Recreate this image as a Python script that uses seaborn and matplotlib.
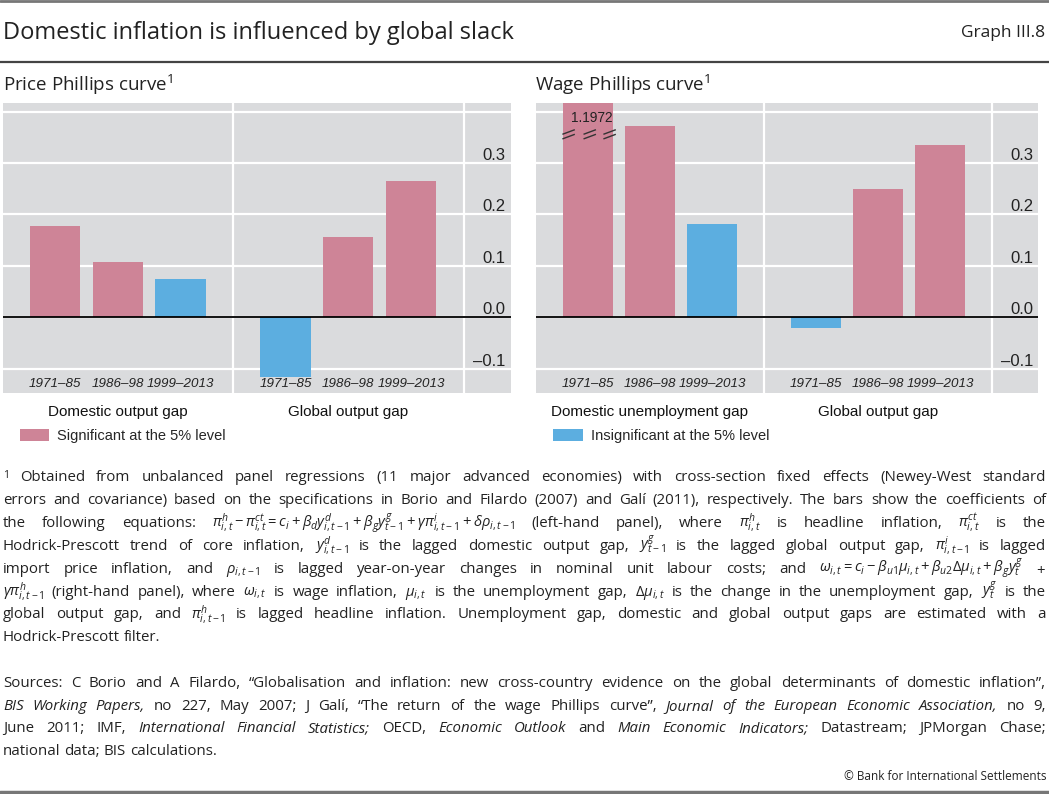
"""
Graph III.8 - Domestic inflation is influenced by global slack
"""

import matplotlib
matplotlib.use('Agg')
from matplotlib.patches import Patch
from matplotlib.lines import Line2D
import pandas as pd
import seaborn as sns
import matplotlib.pyplot as plt


# Dados
periods = ['1971–85', '1986–98', '1999–2013']
price_groups = ['Domestic output gap', 'Global output gap']
wage_groups = ['Domestic unemployment gap', 'Global output gap']
price_values = [0.178, 0.108, 0.075, -0.116, 0.156, 0.265]
price_signif = [True, True, False, False, True, True]
wage_values = [1.1972, 0.372, 0.182, -0.020, 0.250, 0.335]
wage_signif = [True, True, False, False, True, True]
grid_ticks = [-0.1, 0.0, 0.1, 0.2, 0.3, 0.4]
label_ticks = [-0.1, 0.0, 0.1, 0.2, 0.3]

SIG = 'Significant at the 5% level'
INS = 'Insignificant at the 5% level'
PINK = '#ce8497'
BLUE = '#5caee0'
BG = '#dadbdd'

W, H = 1049, 794
GROUP_STEP = 3.667

sns.set_style('white')
plt.rcParams['font.family'] = ['Liberation Sans', 'DejaVu Sans']
plt.rcParams['mathtext.fontset'] = 'custom'
plt.rcParams['mathtext.rm'] = 'Open Sans'
plt.rcParams['mathtext.it'] = 'Open Sans:italic'
plt.rcParams['mathtext.bf'] = 'Open Sans:bold'
TFONT = ['Open Sans', 'DejaVu Sans']

fig = plt.figure(figsize=(W / 100, H / 100), dpi=100)


def px_axes(x0, x1, ytop, ybot):
    return fig.add_axes([x0 / W, 1 - ybot / H, (x1 - x0) / W, (ybot - ytop) / H])


def panel(ax, values, signif, groups, legend_label, legend_color):
    pos = [g * GROUP_STEP + j for g in range(len(groups)) for j in range(len(periods))]
    df = pd.DataFrame({
        'x': pos,
        'value': values,
        'sig': [SIG if s else INS for s in signif],
    })
    ax.set_facecolor(BG)
    sns.barplot(data=df, x='x', y='value', hue='sig', palette={SIG: PINK, INS: BLUE},
                native_scale=True, dodge=False, legend=False, errorbar=None,
                saturation=1, width=0.8, linewidth=0, ax=ax, zorder=2)
    ax.set_xlabel('')
    ax.set_ylabel('')
    for s in ax.spines.values():
        s.set_visible(False)

    ax.set_xlim(-0.83, 7.25)
    ax.set_ylim(-0.148, 0.4175)

    # grade e eixo y
    ax.set_axisbelow(True)
    ax.yaxis.set_ticks_position('right')
    ax.set_yticks(grid_ticks,
                  labels=[f'{v:.1f}'.replace('-', '–') if v in label_ticks else '' for v in grid_ticks])
    ax.grid(axis='y', color='white', lw=1.6)
    ax.tick_params(axis='y', length=0, pad=-3.5, labelsize=12, labelcolor='#222222')
    for lab in ax.get_yticklabels():
        lab.set_horizontalalignment('right')
        lab.set_verticalalignment('bottom')
    ax.axhline(0, color='black', lw=1.3, zorder=3)

    # separadores de grupo
    seps = [g * GROUP_STEP + 2.833 for g in range(len(groups))]
    for s in seps:
        ax.axvline(s, color='white', lw=1.6, zorder=1)
    ax.set_xticks(seps, labels=['' for _ in seps])
    ax.tick_params(axis='x', which='major', direction='in', length=9, width=1.3, color='black')
    ax.set_xticks(pos, labels=periods * len(groups), minor=True)
    ax.tick_params(axis='x', which='minor', length=0, pad=-11.2, labelsize=9.6, labelcolor='#222222')
    for lab in ax.get_xticklabels(minor=True):
        lab.set_fontstyle('italic')

    for g, name in enumerate(groups):
        ax.text(g * GROUP_STEP + 1, -0.063, name, transform=ax.get_xaxis_transform(),
                ha='center', va='center', fontsize=11, color='#111111')

    ax.legend(handles=[Patch(facecolor=legend_color, edgecolor='none', label=legend_label)],
              loc='center left', bbox_to_anchor=(0.034, -0.147), frameon=False,
              fontsize=10.5, handlelength=2.0, handleheight=0.8, handletextpad=0.55,
              borderpad=0, borderaxespad=0)
    return pos


ax1 = px_axes(2.7, 510.7, 102.7, 393.3)
panel(ax1, price_values, price_signif, price_groups, SIG, PINK)

ax2 = px_axes(536.3, 1038.3, 102.7, 393.3)
pos2 = panel(ax2, wage_values, wage_signif, wage_groups, INS, BLUE)

# barra truncada: marcas de quebra e valor
x0 = pos2[0]
ax2.text(x0 + 0.07, 0.388, f'{wage_values[0]:.4f}', ha='center', va='center',
         fontsize=9.8, color='#222222', zorder=5)
for dx in [-0.31, 0.03, 0.35]:
    for dy in [0.0, -0.009]:
        ax2.plot([x0 + dx - 0.1, x0 + dx + 0.1], [0.356 + dy, 0.365 + dy],
                 color='#333333', lw=1, zorder=5, solid_capstyle='butt')

# titulos
fig.text(3 / W, 1 - 33 / H, 'Domestic inflation is influenced by global slack',
         fontsize=17, va='center', ha='left', family=TFONT, color='#222222')
fig.text(1045 / W, 1 - 33 / H, 'Graph III.8', fontsize=12.5, va='center', ha='right',
         family=TFONT, color='#222222')
fig.text(3 / W, 1 - 85 / H, 'Price Phillips curve$^1$', fontsize=13.5, va='center',
         ha='left', family=TFONT, color='#222222')
fig.text(535 / W, 1 - 85 / H, 'Wage Phillips curve$^1$', fontsize=13.5, va='center',
         ha='left', family=TFONT, color='#222222')

for y, c, lw in [(1, '#777777', 2), (61.5, '#444444', 1.6), (792, '#777777', 2.5)]:
    fig.add_artist(Line2D([0, 1], [1 - y / H] * 2, color=c, lw=lw, transform=fig.transFigure))

# notas de rodape (texto justificado)
notes = [
    r'$^1$ Obtained from unbalanced panel regressions (11 major advanced economies) with cross-section fixed effects (Newey-West standard',
    r'errors and covariance) based on the specifications in Borio and Filardo (2007) and Galí (2011), respectively. The bars show the coefficients of',
    r'the following equations: $\pi^h_{i,t} - \pi^{ct}_{i,t} = c_i + \beta_d y^d_{i,t-1} + \beta_g y^g_{t-1} + \gamma\pi^i_{i,t-1} + \delta\rho_{i,t-1}$ (left-hand panel), where $\pi^h_{i,t}$ is headline inflation, $\pi^{ct}_{i,t}$ is the',
    r'Hodrick-Prescott trend of core inflation, $y^d_{i,t-1}$ is the lagged domestic output gap, $y^g_{t-1}$ is the lagged global output gap, $\pi^i_{i,t-1}$ is lagged',
    r'import price inflation, and $\rho_{i,t-1}$ is lagged year-on-year changes in nominal unit labour costs; and $\omega_{i,t} = c_i - \beta_{u1}\mu_{i,t} + \beta_{u2}\Delta\mu_{i,t} + \beta_g y^g_t$ $+$',
    r'$\gamma\pi^h_{i,t-1}$ (right-hand panel), where $\omega_{i,t}$ is wage inflation, $\mu_{i,t}$ is the unemployment gap, $\Delta\mu_{i,t}$ is the change in the unemployment gap, $y^g_t$ is the',
    r'global output gap, and $\pi^h_{i,t-1}$ is lagged headline inflation. Unemployment gap, domestic and global output gaps are estimated with a',
    r'Hodrick-Prescott filter.',
]
sources = [
    'Sources: C Borio and A Filardo, “Globalisation and inflation: new cross-country evidence on the global determinants of domestic inflation”,',
    '*BIS Working Papers*, no 227, May 2007; J Galí, “The return of the wage Phillips curve”, *Journal of the European Economic Association*, no 9,',
    'June 2011; IMF, *International Financial Statistics*; OECD, *Economic Outlook* and *Main Economic Indicators*; Datastream; JPMorgan Chase;',
    'national data; BIS calculations.',
]

renderer = fig.canvas.get_renderer()
FS = 10.85


def split_tokens(line):
    out, cur, inmath = [], '', False
    for ch in line:
        if ch == '$':
            inmath = not inmath
        if ch == ' ' and not inmath:
            if cur:
                out.append(cur)
            cur = ''
        else:
            cur += ch
    if cur:
        out.append(cur)
    return out


def write_line(line, base, justify, x0=3, x1=1046):
    arts = []
    italic = False
    for t in split_tokens(line):
        start = t.startswith('*')
        end = t.rstrip(',;.').endswith('*')
        it = italic or start
        italic = (italic or start) and not end
        size = FS * 0.98 if '$' in t else FS
        arts.append(fig.text(0, 1 - base / H, t.replace('*', ''), fontsize=size,
                             style='italic' if it else 'normal', family=TFONT,
                             va='baseline', ha='left', color='#222222'))
    widths = [a.get_window_extent(renderer).width for a in arts]
    space = FS * 100 / 72 * 0.26
    if justify and len(arts) > 1:
        gap = (x1 - x0 - sum(widths)) / (len(arts) - 1)
        gap = max(gap, space * 0.6)
    else:
        gap = space
    x = x0
    for a, w in zip(arts, widths):
        a.set_x(x / W)
        x += w + gap


for i, line in enumerate(notes):
    write_line(line, 481 + i * 22.9, justify=i < len(notes) - 1)
for i, line in enumerate(sources):
    write_line(line, 687 + i * 22.6, justify=i < len(sources) - 1)

fig.text(1046 / W, 1 - 780 / H, '© Bank for International Settlements', fontsize=8.5,
         ha='right', va='baseline', family=TFONT, color='#222222')

fig.savefig('out.png', dpi=100)
